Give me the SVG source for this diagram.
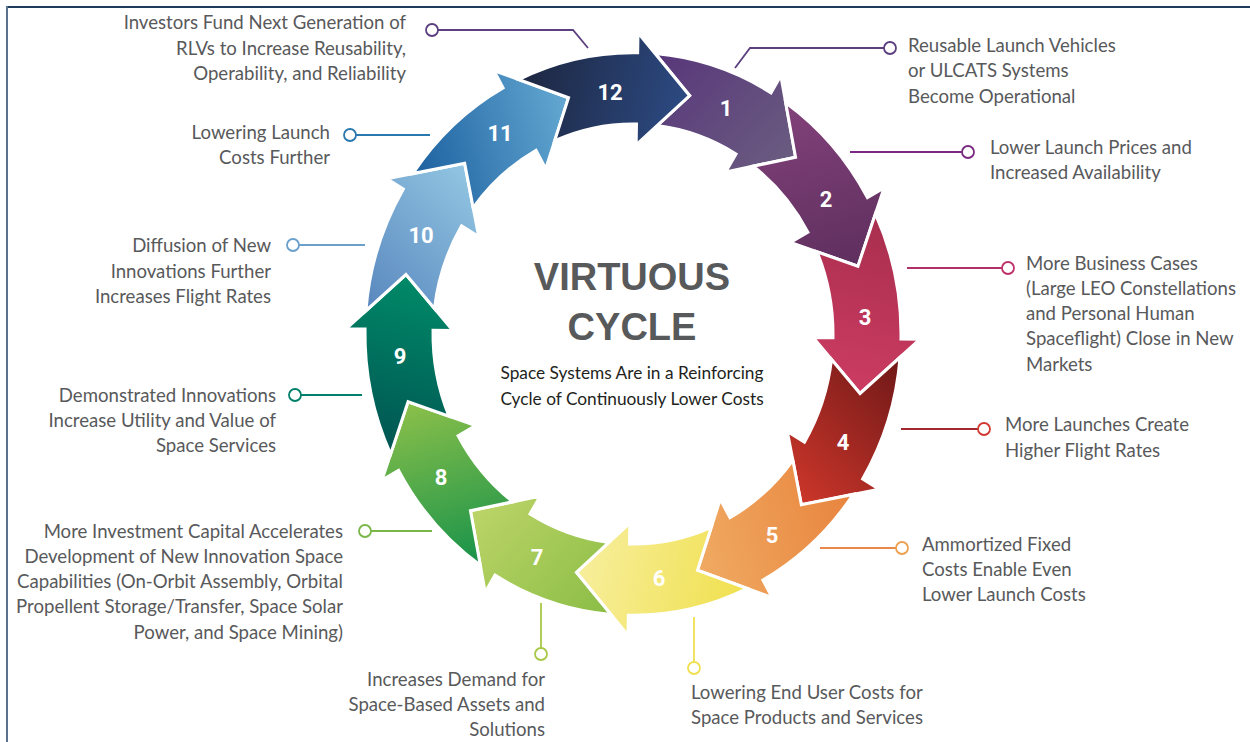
<svg xmlns="http://www.w3.org/2000/svg" width="1250" height="742" viewBox="0 0 1250 742">
<style>
.lbl{font-family:Lato,"Open Sans","Liberation Sans",sans-serif;font-size:18.6px;fill:#58595b}
.r{text-anchor:start}.l{text-anchor:end}
.num{font-family:"Liberation Sans Narrow",Roboto,"Liberation Sans",sans-serif;font-weight:bold;font-size:22px;fill:#fff;text-anchor:middle}
.arr{stroke:#fff;stroke-width:3;stroke-linejoin:miter;vector-effect:non-scaling-stroke}
.ln{fill:none;stroke-width:1.8}
.dot{fill:#fff;stroke-width:1.8}
</style>
<defs>
<path id="a" d="M-169.62 -207.5A268 268 0 0 1 -60.29 -261.13L-64.56 -279.64L0 -234L-40.49 -175.39L-44.99 -194.87A200 200 0 0 0 -120.49 -159.63L-117 -202.65Z"/>
<linearGradient id="g12" gradientUnits="userSpaceOnUse" x1="-170" y1="0" x2="0" y2="0"><stop offset="0" stop-color="#1d2640"/><stop offset="1" stop-color="#2c4a82"/></linearGradient>
<linearGradient id="g1" gradientUnits="userSpaceOnUse" x1="-170" y1="0" x2="0" y2="0"><stop offset="0" stop-color="#58367a"/><stop offset="1" stop-color="#6a5c80"/></linearGradient>
<linearGradient id="g2" gradientUnits="userSpaceOnUse" x1="-170" y1="0" x2="0" y2="0"><stop offset="0" stop-color="#82417a"/><stop offset="1" stop-color="#5e2f5e"/></linearGradient>
<linearGradient id="g3" gradientUnits="userSpaceOnUse" x1="-170" y1="0" x2="0" y2="0"><stop offset="0" stop-color="#a82e4e"/><stop offset="1" stop-color="#cc3c62"/></linearGradient>
<linearGradient id="g4" gradientUnits="userSpaceOnUse" x1="-170" y1="0" x2="0" y2="0"><stop offset="0" stop-color="#6e1818"/><stop offset="1" stop-color="#cc362a"/></linearGradient>
<linearGradient id="g5" gradientUnits="userSpaceOnUse" x1="-170" y1="0" x2="0" y2="0"><stop offset="0" stop-color="#e8843e"/><stop offset="1" stop-color="#f0aa62"/></linearGradient>
<linearGradient id="g6" gradientUnits="userSpaceOnUse" x1="-170" y1="0" x2="0" y2="0"><stop offset="0" stop-color="#f0e04e"/><stop offset="1" stop-color="#f7ee9c"/></linearGradient>
<linearGradient id="g7" gradientUnits="userSpaceOnUse" x1="-170" y1="0" x2="0" y2="0"><stop offset="0" stop-color="#8abd45"/><stop offset="1" stop-color="#bcd468"/></linearGradient>
<linearGradient id="g8" gradientUnits="userSpaceOnUse" x1="-170" y1="0" x2="0" y2="0"><stop offset="0" stop-color="#16924a"/><stop offset="1" stop-color="#8cc04a"/></linearGradient>
<linearGradient id="g9" gradientUnits="userSpaceOnUse" x1="-170" y1="0" x2="0" y2="0"><stop offset="0" stop-color="#005452"/><stop offset="1" stop-color="#008a68"/></linearGradient>
<linearGradient id="g10" gradientUnits="userSpaceOnUse" x1="-170" y1="0" x2="0" y2="0"><stop offset="0" stop-color="#5886be"/><stop offset="1" stop-color="#92c6e2"/></linearGradient>
<linearGradient id="g11" gradientUnits="userSpaceOnUse" x1="-170" y1="0" x2="0" y2="0"><stop offset="0" stop-color="#1c60a0"/><stop offset="1" stop-color="#64a8d2"/></linearGradient>
</defs>
<rect width="1250" height="742" fill="#fff"/>
<g id="frame">
<line x1="7" y1="7" x2="1250" y2="7" stroke="#1f3b5c" stroke-width="2"/>
<line x1="7" y1="6" x2="7" y2="742" stroke="#5a7190" stroke-width="2"/>
</g>
<g id="connectors">
<polyline class="ln" stroke="#5c3f7e" points="438,30 573,30 588,48"/>
<circle class="dot" stroke="#5c3f7e" cx="432" cy="30" r="6"/>
<polyline class="ln" stroke="#5c3f7e" points="884,48 750,48 735,68"/>
<circle class="dot" stroke="#5c3f7e" cx="890" cy="48" r="6"/>
<line class="ln" stroke="#7a2a80" x1="962" y1="152" x2="850" y2="152"/>
<circle class="dot" stroke="#7a2a80" cx="968" cy="152" r="6"/>
<line class="ln" stroke="#b0306a" x1="1002" y1="268" x2="907" y2="268"/>
<circle class="dot" stroke="#c0306a" cx="1008" cy="268" r="6"/>
<line class="ln" stroke="#a0282e" x1="978" y1="429" x2="901" y2="429"/>
<circle class="dot" stroke="#d03a30" cx="984" cy="429" r="6"/>
<line class="ln" stroke="#e8884a" x1="896" y1="548" x2="820" y2="548"/>
<circle class="dot" stroke="#eca050" cx="902" cy="548" r="6"/>
<line class="ln" stroke="#f0e050" x1="694" y1="662" x2="694" y2="617"/>
<circle class="dot" stroke="#f0e050" cx="694" cy="668" r="6"/>
<line class="ln" stroke="#a8c848" x1="541" y1="648" x2="541" y2="603"/>
<circle class="dot" stroke="#a8c848" cx="541" cy="654" r="6"/>
<line class="ln" stroke="#7ab648" x1="371" y1="531" x2="432" y2="531"/>
<circle class="dot" stroke="#7ab648" cx="365" cy="531" r="6"/>
<line class="ln" stroke="#00806a" x1="301" y1="395" x2="362" y2="395"/>
<circle class="dot" stroke="#00806a" cx="295" cy="395" r="6"/>
<line class="ln" stroke="#6aa0cc" x1="299" y1="245" x2="365" y2="245"/>
<circle class="dot" stroke="#6aa0cc" cx="293" cy="245" r="6"/>
<line class="ln" stroke="#2a78b0" x1="356" y1="135" x2="430" y2="135"/>
<circle class="dot" stroke="#2a78b0" cx="350" cy="135" r="6"/>
</g>
<g id="ring" transform="translate(633,334) scale(1,1.05)">
<g id="arrow1"><use href="#a" class="arr" fill="url(#g1)" transform="rotate(44)"/></g>
<g id="arrow2"><use href="#a" class="arr" fill="url(#g2)" transform="rotate(74)"/></g>
<g id="arrow3"><use href="#a" class="arr" fill="url(#g3)" transform="rotate(104)"/></g>
<g id="arrow4"><use href="#a" class="arr" fill="url(#g4)" transform="rotate(134)"/></g>
<g id="arrow5"><use href="#a" class="arr" fill="url(#g5)" transform="rotate(164)"/></g>
<g id="arrow6"><use href="#a" class="arr" fill="url(#g6)" transform="rotate(194)"/></g>
<g id="arrow7"><use href="#a" class="arr" fill="url(#g7)" transform="rotate(224)"/></g>
<g id="arrow8"><use href="#a" class="arr" fill="url(#g8)" transform="rotate(254)"/></g>
<g id="arrow9"><use href="#a" class="arr" fill="url(#g9)" transform="rotate(284)"/></g>
<g id="arrow10"><use href="#a" class="arr" fill="url(#g10)" transform="rotate(314)"/></g>
<g id="arrow11"><use href="#a" class="arr" fill="url(#g11)" transform="rotate(344)"/></g>
<g id="arrow12"><use href="#a" class="arr" fill="url(#g12)" transform="rotate(14)"/></g>
</g>
<g id="numbers">
<text class="num" x="610" y="100">12</text>
<text class="num" x="726" y="116">1</text>
<text class="num" x="826" y="207">2</text>
<text class="num" x="865" y="325">3</text>
<text class="num" x="843" y="450">4</text>
<text class="num" x="772" y="543">5</text>
<text class="num" x="659" y="586">6</text>
<text class="num" x="537" y="565">7</text>
<text class="num" x="441" y="485">8</text>
<text class="num" x="400" y="364">9</text>
<text class="num" x="421" y="243">10</text>
<text class="num" x="500" y="141">11</text>
</g>
<g id="center">
<text x="632" y="290" font-family="'Liberation Sans',Arial,sans-serif" font-weight="bold" font-size="38" fill="#58595b" text-anchor="middle">VIRTUOUS</text>
<text x="632" y="340" font-family="'Liberation Sans',Arial,sans-serif" font-weight="bold" font-size="38" fill="#58595b" text-anchor="middle">CYCLE</text>
<text x="632" y="379" font-family="Lato,'Open Sans',sans-serif" font-size="17.3" fill="#231f20" text-anchor="middle">Space Systems Are in a Reinforcing</text>
<text x="632" y="405" font-family="Lato,'Open Sans',sans-serif" font-size="17.3" fill="#231f20" text-anchor="middle">Cycle of Continuously Lower Costs</text>
</g>
<g id="label1"><text class="lbl r" x="908" y="52">Reusable Launch Vehicles</text><text class="lbl r" x="908" y="77">or ULCATS Systems</text><text class="lbl r" x="908" y="103">Become Operational</text></g>
<g id="label2"><text class="lbl r" x="990" y="154">Lower Launch Prices and</text><text class="lbl r" x="990" y="179">Increased Availability</text></g>
<g id="label3"><text class="lbl r" x="1026" y="270">More Business Cases</text><text class="lbl r" x="1026" y="295">(Large LEO Constellations</text><text class="lbl r" x="1026" y="320">and Personal Human</text><text class="lbl r" x="1026" y="345">Spaceflight) Close in New</text><text class="lbl r" x="1026" y="371">Markets</text></g>
<g id="label4"><text class="lbl r" x="1005" y="431">More Launches Create</text><text class="lbl r" x="1005" y="457">Higher Flight Rates</text></g>
<g id="label5"><text class="lbl r" x="922" y="551">Ammortized Fixed</text><text class="lbl r" x="922" y="576">Costs Enable Even</text><text class="lbl r" x="922" y="601">Lower Launch Costs</text></g>
<g id="label6"><text class="lbl r" x="691" y="699">Lowering End User Costs for</text><text class="lbl r" x="691" y="724">Space Products and Services</text></g>
<g id="label7"><text class="lbl l" x="545" y="686">Increases Demand for</text><text class="lbl l" x="545" y="711">Space-Based Assets and</text><text class="lbl l" x="545" y="736">Solutions</text></g>
<g id="label8"><text class="lbl l" x="343" y="538">More Investment Capital Accelerates</text><text class="lbl l" x="343" y="563">Development of New Innovation Space</text><text class="lbl l" x="343" y="588">Capabilities (On-Orbit Assembly, Orbital</text><text class="lbl l" x="343" y="613">Propellent Storage/Transfer, Space Solar</text><text class="lbl l" x="343" y="639">Power, and Space Mining)</text></g>
<g id="label9"><text class="lbl l" x="276" y="402">Demonstrated Innovations</text><text class="lbl l" x="276" y="427">Increase Utility and Value of</text><text class="lbl l" x="276" y="452">Space Services</text></g>
<g id="label10"><text class="lbl l" x="271" y="252">Diffusion of New</text><text class="lbl l" x="271" y="278">Innovations Further</text><text class="lbl l" x="271" y="303">Increases Flight Rates</text></g>
<g id="label11"><text class="lbl l" x="330" y="139">Lowering Launch</text><text class="lbl l" x="330" y="164">Costs Further</text></g>
<g id="label12"><text class="lbl l" x="406" y="29">Investors Fund Next Generation of</text><text class="lbl l" x="406" y="55">RLVs to Increase Reusability,</text><text class="lbl l" x="406" y="80">Operability, and Reliability</text></g>
</svg>
